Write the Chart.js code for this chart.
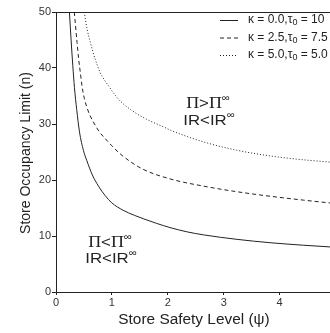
<!DOCTYPE html>
<html>
<head>
<meta charset="utf-8">
<script src="https://cdn.jsdelivr.net/npm/chart.js@4"></script>
<style>
  html, body { margin: 0; padding: 0; background: #fff; }
  #wrap { width: 330px; height: 333px; }
</style>
</head>
<body>
<div id="wrap"><canvas id="chart"></canvas></div>
<script>
// values
const psiA = [0.24, 0.27, 0.30, 0.33, 0.37, 0.42, 0.49, 0.55, 0.65, 0.76, 0.88, 1.0, 1.2, 1.4, 1.57, 1.8, 2.04, 2.34, 2.64, 3.24, 3.83, 4.43, 4.9];
const nA   = [50, 45, 40.5, 36.5, 32.6, 28.6, 25.3, 23.5, 20.9, 18.9, 17.2, 15.9, 14.6, 13.7, 13.05, 12.25, 11.5, 10.75, 10.2, 9.4, 8.8, 8.35, 8.05];

const psiB = [0.327, 0.376, 0.405, 0.435, 0.465, 0.506, 0.555, 0.60, 0.66, 0.775, 0.88, 1.0, 1.18, 1.54, 2.04, 2.64, 3.24, 3.83, 4.43, 4.9];
const nB   = [50, 44.6, 41.6, 39.2, 36.8, 34.6, 32.9, 31.7, 30.5, 28.6, 27.4, 26.1, 24.4, 22.0, 20.2, 18.9, 17.9, 17.1, 16.4, 15.9];

const psiC = [0.505, 0.555, 0.613, 0.70, 0.79, 0.94, 1.12, 1.33, 1.63, 1.92, 2.07, 2.64, 3.24, 3.83, 4.43, 4.9];
const nC   = [50, 47, 44.6, 41.6, 39.2, 36.8, 34.4, 32.6, 30.8, 29.5, 28.8, 26.8, 25.3, 24.3, 23.6, 23.2];

const seriesNames = [
  ['\u03ba = 0.0,\u03c4', '0', ' = 10'],
  ['\u03ba = 2.5,\u03c4', '0', ' = 7.5'],
  ['\u03ba = 5.0,\u03c4', '0', ' = 5.0']
];
const dashes = [[], [4, 3], [1, 2]];

const xTicks = [0, 1, 2, 3, 4];
const yTicks = [0, 10, 20, 30, 40, 50];

const ink = '#222';
const font = '"Liberation Sans", Arial, sans-serif';
const serif = '"Liberation Serif", "Times New Roman", serif';

function pts(xs, ys) {
  return xs.map((x, i) => ({ x: x, y: ys[i] }));
}

function sub(ctx, parts, x, y, size) {
  // text with subscript, left aligned
  ctx.font = size + 'px ' + font;
  ctx.fillText(parts[0], x, y);
  x += ctx.measureText(parts[0]).width;
  ctx.font = (size - 3) + 'px ' + font;
  ctx.fillText(parts[1], x, y + 3);
  x += ctx.measureText(parts[1]).width;
  ctx.font = size + 'px ' + font;
  ctx.fillText(parts[2], x, y);
}

// pieces: [text, fontFamily, size, dy]
function runs(ctx, pieces, cx, y, sx) {
  let w = 0;
  pieces.forEach(p => { ctx.font = p[2] + 'px ' + p[1]; w += ctx.measureText(p[0]).width; });
  ctx.save();
  ctx.translate(cx, y);
  ctx.scale(sx, 1);
  let x = -w / 2;
  pieces.forEach(p => {
    ctx.font = p[2] + 'px ' + p[1];
    ctx.fillText(p[0], x, p[3]);
    x += ctx.measureText(p[0]).width;
  });
  ctx.restore();
}

function piLine(ctx, op, cx, y) {
  runs(ctx, [['\u03a0', serif, 16, 0], [op, font, 15, 0], ['\u03a0', serif, 16, 0], ['\u221e', font, 10, -7]], cx, y, 1.12);
}

function irLine(ctx, cx, y) {
  runs(ctx, [['IR<IR', font, 15, 0], ['\u221e', font, 10, -7]], cx, y, 1.12);
}

const extras = {
  id: 'extras',
  afterDraw(chart) {
    const ctx = chart.ctx;
    const a = chart.chartArea;
    ctx.save();
    ctx.strokeStyle = ink;
    ctx.lineWidth = 1;
    ctx.beginPath();
    ctx.moveTo(a.left, a.top + 0.5);
    ctx.lineTo(a.right, a.top + 0.5);
    ctx.stroke();

    // legend
    ctx.fillStyle = ink;
    ctx.textBaseline = 'middle';
    ctx.textAlign = 'left';
    const rows = [20, 37.5, 55];
    seriesNames.forEach((p, i) => {
      ctx.setLineDash(dashes[i]);
      ctx.beginPath();
      ctx.moveTo(220, rows[i] + 0.5);
      ctx.lineTo(238, rows[i] + 0.5);
      ctx.stroke();
      ctx.setLineDash([]);
      sub(ctx, p, 248, rows[i], 12);
    });

    // region labels
    ctx.textBaseline = 'alphabetic';
    piLine(ctx, '>', 208, 108);
    irLine(ctx, 209, 125);
    piLine(ctx, '<', 110, 247);
    irLine(ctx, 111, 263);

    // axis titles
    ctx.textBaseline = 'middle';
    runs(ctx, [['Store Safety Level (\u03c8)', font, 14, 0]], 194, 320, 1.1);
    ctx.textAlign = 'center';
    ctx.font = '14px ' + font;
    ctx.translate(26, 153);
    ctx.rotate(-Math.PI / 2);
    ctx.fillText('Store Occupancy Limit (n)', 0, 0);
    ctx.restore();
  }
};

const datasets = [pts(psiA, nA), pts(psiB, nB), pts(psiC, nC)].map((d, i) => ({
  data: d,
  borderColor: ink,
  borderWidth: 1,
  borderDash: dashes[i],
  pointRadius: 0,
  fill: false,
  cubicInterpolationMode: 'monotone'
}));

new Chart(document.getElementById('chart'), {
  type: 'line',
  data: { datasets: datasets },
  plugins: [extras],
  options: {
    responsive: true,
    maintainAspectRatio: false,
    animation: false,
    layout: { padding: { top: 12, right: 0, left: 0, bottom: 0 } },
    plugins: { legend: { display: false }, tooltip: { enabled: false } },
    scales: {
      x: {
        type: 'linear',
        min: 0,
        max: 4.9,
        afterFit(s) { s.height = 41; },
        afterBuildTicks(s) { s.ticks = xTicks.map(v => ({ value: v })); },
        grid: { display: true, drawOnChartArea: false, drawTicks: true, tickLength: 3, color: ink },
        border: { display: true, color: ink, width: 1 },
        ticks: { color: '#333', font: { family: font, size: 11 }, padding: 1, maxRotation: 0 }
      },
      y: {
        type: 'linear',
        min: 0,
        max: 50,
        afterFit(s) { s.width = 56; },
        afterBuildTicks(s) { s.ticks = yTicks.map(v => ({ value: v })); },
        grid: { display: true, drawOnChartArea: false, drawTicks: true, tickLength: 4, color: ink },
        border: { display: true, color: ink, width: 1 },
        ticks: { color: '#333', font: { family: font, size: 11 }, padding: 1 }
      }
    }
  }
});
</script>
</body>
</html>
